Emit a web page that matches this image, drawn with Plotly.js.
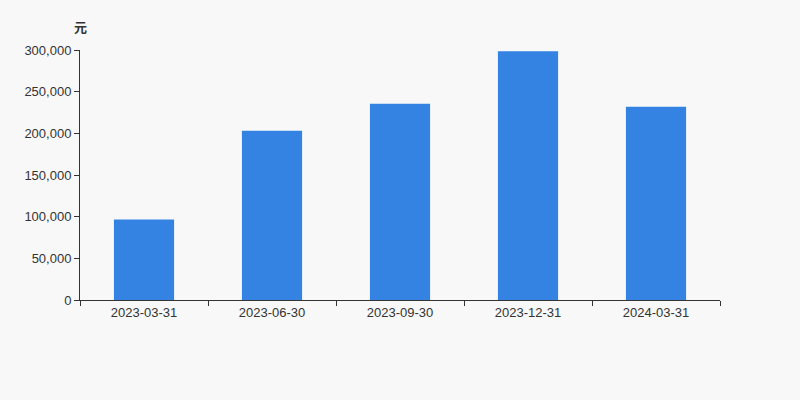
<!DOCTYPE html>
<html>
<head>
<meta charset="utf-8">
<script src="https://cdn.plot.ly/plotly-3.0.1.min.js"></script>
<style>html,body{margin:0;padding:0;background:#f8f8f8;}</style>
</head>
<body>
<div id="chart" style="width:800px;height:400px;"></div>
<script>
const categories = ["2023-03-31", "2023-06-30", "2023-09-30", "2023-12-31", "2024-03-31"];
const values = [96600, 203000, 235400, 298400, 231800];
const unitLabel = "元";
const yTicks = [0, 50000, 100000, 150000, 200000, 250000, 300000];

const trace = {
  type: "bar",
  x: categories,
  y: values,
  marker: {color: "#3482e2"},
  hoverinfo: "x+y"
};

const layout = {
  width: 800,
  height: 400,
  paper_bgcolor: "#f8f8f8",
  plot_bgcolor: "#f8f8f8",
  margin: {l: 80, r: 80, t: 50, b: 100},
  bargap: 0.53,
  showlegend: false,
  font: {family: "Liberation Sans, Arial, sans-serif", size: 13, color: "#333"},
  xaxis: {
    type: "category",
    showline: true,
    linecolor: "#333",
    linewidth: 1,
    ticks: "outside",
    tickson: "boundaries",
    ticklen: 5,
    tickcolor: "#333",
    showgrid: false,
    zeroline: false,
    tickfont: {size: 13, color: "#333"}
  },
  yaxis: {
    range: [0, 300000],
    tickvals: yTicks,
    tickformat: ",d",
    showline: true,
    linecolor: "#333",
    linewidth: 1,
    ticks: "outside",
    ticklen: 5,
    tickcolor: "#333",
    showgrid: false,
    zeroline: false,
    tickfont: {size: 13, color: "#333"}
  },
  annotations: [{
    text: "<b>" + unitLabel + "</b>",
    xref: "paper", yref: "paper",
    x: 0, y: 1,
    xanchor: "center", yanchor: "bottom",
    yshift: 12,
    showarrow: false,
    font: {size: 13, color: "#333", family: "Noto Sans CJK SC, sans-serif"}
  }]
};

Plotly.newPlot("chart", [trace], layout, {displayModeBar: false, staticPlot: true});
</script>
</body>
</html>
